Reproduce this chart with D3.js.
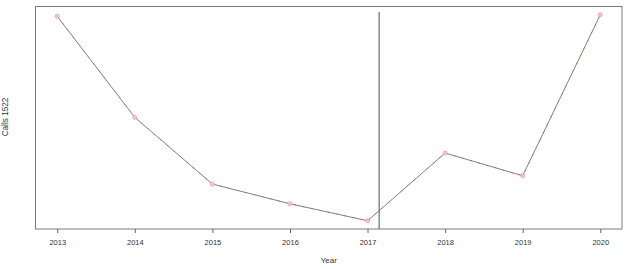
<!DOCTYPE html>
<html><head><meta charset="utf-8">
<script src="https://cdn.jsdelivr.net/npm/d3@7"></script>
<style>body{margin:0;background:#fff}svg{display:block}</style>
</head><body>
<script>
const years = [2013, 2014, 2015, 2016, 2017, 2018, 2019, 2020];
const calls = [5288, 3268, 1934, 1540, 1200, 2554, 2100, 5320];
const tickLabels = ["2013","2014","2015","2016","2017","2018","2019","2020"];
const eventYear = [2017.15];
const eventTop = [5374];

const W = 638, H = 269;
const m = {l: 35.5, r: 16, t: 6.5, b: 40};
const svg = d3.select("body").append("svg").attr("width", W).attr("height", H);

const xr = d3.extent(years), xp = (xr[1]-xr[0])*0.04;
const yr = d3.extent(calls), yp = (yr[1]-yr[0])*0.04;
const x = d3.scaleLinear().domain([xr[0]-xp, xr[1]+xp]).range([m.l, W-m.r]);
const y = d3.scaleLinear().domain([yr[0]-yp, yr[1]+yp]).range([H-m.b, m.t]);

// box
svg.append("rect").attr("x", m.l).attr("y", m.t).attr("width", W-m.r-m.l).attr("height", H-m.b-m.t)
  .attr("fill", "none").attr("stroke", "#7a7a7a").attr("stroke-width", 1);

// x axis
const ax = d3.axisBottom(x).tickValues(years).tickFormat((d,i)=>tickLabels[i]).tickSize(4).tickSizeOuter(0);
const g = svg.append("g").attr("transform", `translate(0,${H-m.b})`).call(ax);
g.select(".domain").remove();
g.selectAll(".tick line").attr("stroke", "#666");
g.selectAll(".tick text").attr("fill", "#333").attr("font-family", "Liberation Sans, Arial, sans-serif")
  .attr("font-size", 7.5).attr("dy", "1.15em");

// event line
svg.append("line").attr("x1", x(eventYear[0])).attr("x2", x(eventYear[0]))
  .attr("y1", y(eventTop[0])).attr("y2", H-m.b)
  .attr("stroke", "#777").attr("stroke-width", 1.3);

const pts = years.map((d,i)=>[d, calls[i]]);
const line = d3.line().x(d=>x(d[0])).y(d=>y(d[1]));
svg.append("path").datum(pts).attr("d", line).attr("fill", "none").attr("stroke", "#808080").attr("stroke-width", 1);
svg.append("path").datum(pts).attr("d", line).attr("fill", "none").attr("stroke", "#c0392b")
  .attr("stroke-width", 0.8).attr("stroke-dasharray", "1.5,7").attr("opacity", 0.7);
svg.selectAll("circle").data(pts).join("circle").attr("cx", d=>x(d[0])).attr("cy", d=>y(d[1])).attr("r", 2)
  .attr("fill", "#f8c8c8").attr("stroke", "#f29a9a").attr("stroke-width", 0.8);

// labels
svg.append("text").attr("x", (m.l + W - m.r)/2).attr("y", 263).attr("text-anchor", "middle")
  .attr("font-family", "Liberation Sans, Arial, sans-serif").attr("font-size", 8).attr("fill", "#333").text("Year");
svg.append("text").attr("transform", `translate(8,117) rotate(-90)`).attr("text-anchor", "middle")
  .attr("font-family", "Liberation Sans, Arial, sans-serif").attr("font-size", 8.2).attr("fill", "#333").text("Calls 1522");
</script>
</body></html>
